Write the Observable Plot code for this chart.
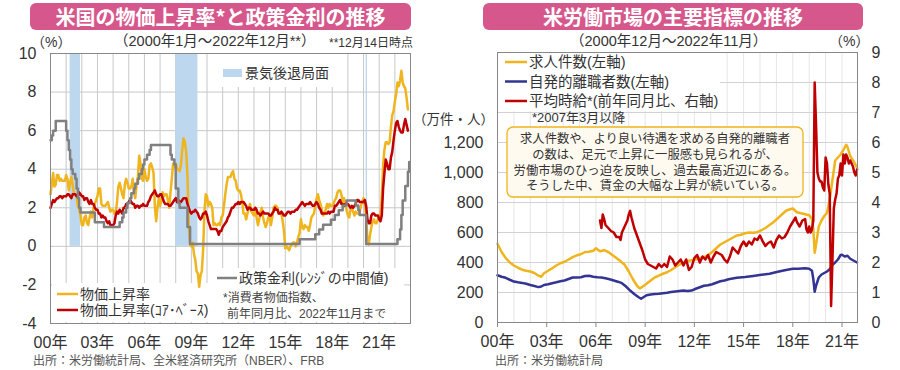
<!DOCTYPE html>
<html><head><meta charset="utf-8">
<script src="https://cdn.jsdelivr.net/npm/d3@7"></script>
<script src="https://cdn.jsdelivr.net/npm/@observablehq/plot@0.6"></script>
<style>
body{margin:0;background:#fff;}
#root{position:relative;width:900px;height:370px;overflow:hidden;font-family:"Liberation Sans","Noto Sans CJK JP",sans-serif;color:#333;}
#root svg{position:absolute;top:0;}
.abs{position:absolute;white-space:nowrap;z-index:3;line-height:1;}
.hdr{position:absolute;top:3px;height:27px;background:#d6578b;border-radius:6px;color:#fff;font-weight:bold;font-size:20px;line-height:27px;text-align:center;font-family:"Noto Sans CJK JP",sans-serif;z-index:3;}
</style></head><body>
<div id="root">
  <div class="hdr" style="left:30px;width:381px;">米国の物価上昇率*と政策金利の推移</div>
  <div class="hdr" style="left:483px;width:380px;">米労働市場の主要指標の推移</div>
  <div class="abs" style="left:31px;top:35px;font-size:14px;">（%）</div>
  <div class="abs" style="left:114px;top:34px;font-size:14.5px;">（2000年1月～2022年12月**）</div>
  <div class="abs" style="left:329px;top:37px;font-size:12px;">**12月14日時点</div>
  <div class="abs" style="left:570px;top:34px;font-size:14.5px;">（2000年12月～2022年11月）</div>
  <div class="abs" style="left:829px;top:34px;font-size:14px;">（%）</div>
  <div class="abs" style="left:413px;top:113px;font-size:13.5px;">（万件・人）</div>
  <div class="abs" style="left:33px;top:355px;font-size:12px;color:#555;">出所：米労働統計局、全米経済研究所（NBER）、FRB</div>
  <div class="abs" style="left:495px;top:355px;font-size:12px;color:#555;">出所：米労働統計局</div>
</div>
<script>
// ---------------- LEFT PANEL DATA ----------------
// CPI all items, YoY %, monthly from 2000-01 to 2022-11
const cpiAll = [
  2.7,3.2,3.8,3.1,3.2,3.7,3.7,3.4,3.5,3.4,3.4,3.4,
  3.7,3.5,2.9,3.3,3.6,3.2,2.7,2.7,2.6,2.1,1.9,1.6,
  1.1,1.1,1.5,1.6,1.2,1.1,1.5,1.8,1.5,2.0,2.2,2.4,
  2.6,3.0,3.0,2.2,2.1,2.1,2.1,2.2,2.3,2.0,1.8,1.9,
  1.9,1.7,1.7,2.3,3.1,3.3,3.0,2.7,2.5,3.2,3.5,3.3,
  3.0,3.0,3.1,3.5,2.8,2.5,3.2,3.6,4.7,4.3,3.5,3.4,
  4.0,3.6,3.4,3.5,4.2,4.3,4.1,3.8,2.1,1.3,2.0,2.5,
  2.1,2.4,2.8,2.6,2.7,2.7,2.4,2.0,2.8,3.5,4.3,4.1,
  4.3,4.0,4.0,3.9,4.2,5.0,5.6,5.4,4.9,3.7,1.1,0.1,
  0.0,0.2,-0.4,-0.7,-1.3,-1.4,-2.1,-1.5,-1.3,-0.2,1.8,2.7,
  2.6,2.1,2.3,2.2,2.0,1.1,1.2,1.1,1.1,1.2,1.1,1.5,
  1.6,2.1,2.7,3.2,3.6,3.6,3.6,3.8,3.9,3.5,3.4,3.0,
  2.9,2.9,2.7,2.3,1.7,1.7,1.4,1.7,2.0,2.2,1.8,1.7,
  1.6,2.0,1.5,1.1,1.4,1.8,2.0,1.5,1.2,1.0,1.2,1.5,
  1.6,1.1,1.5,2.0,2.1,2.1,2.0,1.7,1.7,1.7,1.3,0.8,
  -0.1,0.0,-0.1,-0.2,0.0,0.1,0.2,0.2,0.0,0.2,0.5,0.7,
  1.4,1.0,0.9,1.1,1.0,1.0,0.8,1.1,1.5,1.6,1.7,2.1,
  2.5,2.7,2.4,2.2,1.9,1.6,1.7,1.9,2.2,2.0,2.2,2.1,
  2.1,2.2,2.4,2.5,2.8,2.9,2.9,2.7,2.3,2.5,2.2,1.9,
  1.6,1.5,1.9,2.0,1.8,1.6,1.8,1.7,1.7,1.8,2.1,2.3,
  2.5,2.3,1.5,0.3,0.1,0.6,1.0,1.3,1.4,1.2,1.2,1.4,
  1.4,1.7,2.6,4.2,5.0,5.4,5.4,5.3,5.4,6.2,6.8,7.0,
  7.5,7.9,8.5,8.3,8.6,9.1,8.5,8.3,8.2,7.7,7.1
];
// Core CPI, YoY %, monthly from 2000-01 to 2022-11
const cpiCore = [
  2.0,2.2,2.4,2.3,2.4,2.5,2.5,2.6,2.6,2.5,2.6,2.6,
  2.6,2.7,2.7,2.6,2.5,2.7,2.7,2.7,2.6,2.6,2.8,2.7,
  2.6,2.6,2.4,2.5,2.5,2.3,2.2,2.4,2.2,2.2,2.0,1.9,
  1.9,1.7,1.7,1.5,1.6,1.5,1.5,1.3,1.2,1.3,1.1,1.1,
  1.1,1.2,1.6,1.8,1.7,1.9,1.8,1.7,2.0,2.0,2.2,2.2,
  2.3,2.4,2.3,2.2,2.2,2.0,2.1,2.1,2.0,2.1,2.1,2.2,
  2.1,2.1,2.1,2.3,2.4,2.6,2.7,2.8,2.9,2.7,2.6,2.6,
  2.7,2.7,2.5,2.3,2.2,2.2,2.2,2.1,2.1,2.2,2.3,2.4,
  2.5,2.3,2.4,2.3,2.3,2.4,2.5,2.5,2.5,2.2,2.0,1.8,
  1.7,1.8,1.8,1.9,1.8,1.7,1.5,1.4,1.5,1.7,1.7,1.8,
  1.6,1.3,1.1,0.9,0.9,0.9,0.9,0.9,0.8,0.6,0.8,0.8,
  1.0,1.1,1.2,1.3,1.5,1.6,1.8,2.0,2.0,2.1,2.2,2.2,
  2.3,2.2,2.3,2.3,2.3,2.2,2.1,1.9,2.0,2.0,1.9,1.9,
  1.9,2.0,1.9,1.7,1.7,1.6,1.7,1.8,1.7,1.7,1.7,1.7,
  1.6,1.6,1.7,1.8,2.0,1.9,1.9,1.7,1.7,1.8,1.7,1.6,
  1.6,1.7,1.8,1.8,1.7,1.8,1.8,1.8,1.9,1.9,2.0,2.1,
  2.2,2.3,2.2,2.1,2.2,2.2,2.2,2.3,2.2,2.1,2.1,2.2,
  2.3,2.2,2.0,1.9,1.7,1.7,1.7,1.7,1.7,1.8,1.7,1.8,
  1.8,1.8,2.1,2.1,2.2,2.3,2.4,2.2,2.2,2.1,2.2,2.2,
  2.2,2.1,2.0,2.1,2.0,2.1,2.2,2.4,2.4,2.3,2.3,2.3,
  2.3,2.4,2.1,1.4,1.2,1.2,1.6,1.7,1.7,1.6,1.6,1.6,
  1.4,1.3,1.6,3.0,3.8,4.5,4.3,4.0,4.0,4.6,4.9,5.5,
  6.0,6.4,6.5,6.2,6.0,5.9,5.9,6.3,6.6,6.3,6.0
];
// Policy rate (midpoint of target range), change months
const policyRate = [
  ["2000-01",5.5],["2000-02",5.75],["2000-03",6.0],["2000-05",6.5],["2001-01",6.0],["2001-02",5.5],
  ["2001-03",5.0],["2001-04",4.5],["2001-05",4.0],["2001-06",3.75],["2001-08",3.5],["2001-09",3.0],
  ["2001-10",2.5],["2001-11",2.0],["2001-12",1.75],["2002-11",1.25],["2003-06",1.0],["2004-06",1.25],
  ["2004-08",1.5],["2004-09",1.75],["2004-11",2.0],["2004-12",2.25],["2005-02",2.5],["2005-03",2.75],
  ["2005-05",3.0],["2005-06",3.25],["2005-08",3.5],["2005-09",3.75],["2005-11",4.0],["2005-12",4.25],
  ["2006-01",4.5],["2006-03",4.75],["2006-05",5.0],["2006-06",5.25],["2007-09",4.75],["2007-10",4.5],
  ["2007-12",4.25],["2008-01",3.0],["2008-03",2.25],["2008-04",2.0],["2008-10",1.0],["2008-12",0.125],
  ["2015-12",0.375],["2016-12",0.625],["2017-03",0.875],["2017-06",1.125],["2017-12",1.375],
  ["2018-03",1.625],["2018-06",1.875],["2018-09",2.125],["2018-12",2.375],["2019-07",2.125],
  ["2019-09",1.875],["2019-10",1.625],["2020-03",0.125],["2022-03",0.375],["2022-05",0.875],
  ["2022-06",1.625],["2022-07",2.375],["2022-09",3.125],["2022-11",3.875],["2022-12",4.375]
];
const recessions = [["2001-04","2001-12"],["2008-01","2009-06"],["2020-03","2020-04"]];
const leftYTicks = [-4,-2,0,2,4,6,8,10];
const leftXTickYears = [2000,2003,2006,2009,2012,2015,2018,2021];

// ---------------- RIGHT PANEL DATA ----------------
// Job openings (10k)
const jobOpenings = [
  ["2000-12",525],["2001-03",470],["2001-06",430],["2001-09",400],["2001-12",380],["2002-03",365],
  ["2002-06",352],["2002-09",345],["2002-12",340],["2003-03",330],["2003-06",312],["2003-08",305],
  ["2003-10",328],["2004-01",345],["2004-04",362],["2004-07",380],["2004-10",395],["2005-01",405],
  ["2005-04",420],["2005-07",436],["2005-10",448],["2006-01",455],["2006-04",470],["2006-07",472],
  ["2006-10",478],["2006-12",495],["2007-03",475],["2007-06",482],["2007-09",470],["2007-12",450],
  ["2008-03",430],["2008-06",408],["2008-09",385],["2008-12",340],["2009-03",290],["2009-06",245],
  ["2009-08",228],["2009-10",238],["2010-01",258],["2010-04",280],["2010-07",300],["2010-10",312],
  ["2011-01",325],["2011-04",335],["2011-07",350],["2011-10",368],["2012-01",385],["2012-04",400],
  ["2012-07",410],["2012-10",415],["2013-01",420],["2013-04",430],["2013-07",435],["2013-10",450],
  ["2014-01",470],["2014-04",495],["2014-07",520],["2014-10",535],["2015-01",550],["2015-04",565],
  ["2015-07",580],["2015-10",585],["2016-01",595],["2016-04",600],["2016-07",598],["2016-10",602],
  ["2017-01",615],["2017-04",630],["2017-07",650],["2017-10",670],["2018-01",695],["2018-04",720],
  ["2018-07",745],["2018-10",755],["2018-12",760],["2019-03",735],["2019-06",728],["2019-09",722],
  ["2019-12",715],["2020-02",690],["2020-03",620],["2020-04",465],["2020-05",520],["2020-07",640],
  ["2020-09",680],["2020-11",710],["2021-01",730],["2021-03",820],["2021-05",950],["2021-07",1080],
  ["2021-09",1100],["2021-11",1120],["2022-01",1150],["2022-03",1185],["2022-04",1170],["2022-06",1110],
  ["2022-08",1080],["2022-10",1050],["2022-11",1030]
];
// Quits (10k persons)
const quits = [
  ["2000-12",315],["2001-03",305],["2001-06",298],["2001-09",285],["2001-12",273],["2002-03",268],
  ["2002-06",264],["2002-09",258],["2002-12",250],["2003-03",243],["2003-06",236],["2003-08",240],
  ["2003-10",250],["2004-01",255],["2004-04",262],["2004-07",268],["2004-10",275],["2005-01",280],
  ["2005-04",290],["2005-07",300],["2005-10",300],["2006-01",302],["2006-04",310],["2006-07",312],
  ["2006-10",305],["2007-01",302],["2007-04",300],["2007-07",295],["2007-10",288],["2008-01",280],
  ["2008-04",272],["2008-07",262],["2008-10",240],["2009-01",213],["2009-04",190],["2009-07",170],
  ["2009-09",158],["2009-11",170],["2010-01",182],["2010-04",187],["2010-07",190],["2010-10",192],
  ["2011-01",195],["2011-04",198],["2011-07",203],["2011-10",207],["2012-01",210],["2012-04",213],
  ["2012-07",210],["2012-10",213],["2013-01",225],["2013-04",235],["2013-07",245],["2013-10",248],
  ["2014-01",255],["2014-04",265],["2014-07",275],["2014-10",280],["2015-01",288],["2015-07",298],
  ["2016-01",303],["2016-07",310],["2017-01",318],["2017-07",325],["2018-01",338],["2018-07",350],
  ["2018-12",358],["2019-04",358],["2019-09",362],["2019-12",358],["2020-02",345],["2020-03",290],
  ["2020-04",205],["2020-05",245],["2020-07",300],["2020-09",320],["2020-11",330],["2021-01",340],
  ["2021-03",355],["2021-05",385],["2021-07",400],["2021-09",420],["2021-11",450],["2021-12",452],
  ["2022-02",440],["2022-04",445],["2022-06",425],["2022-08",415],["2022-10",405],["2022-11",400]
];
// Average hourly earnings, YoY %
const hourlyEarnings = [
  ["2007-03",3.4],["2007-04",3.15],["2007-05",3.6],["2007-06",3.45],["2007-07",3.25],["2007-09",3.15],
  ["2007-11",3.05],["2008-01",3.0],["2008-03",2.85],["2008-05",2.85],["2008-06",2.75],["2008-07",3.0],
  ["2008-09",3.2],["2008-11",3.4],["2008-12",3.6],["2009-01",3.72],["2009-02",3.5],["2009-04",3.15],
  ["2009-06",2.9],["2009-08",2.65],["2009-10",2.4],["2009-12",2.1],["2010-02",1.95],["2010-04",1.9],
  ["2010-06",1.85],["2010-08",1.8],["2010-10",1.95],["2010-12",1.85],["2011-02",1.95],["2011-04",1.85],
  ["2011-06",2.2],["2011-08",2.1],["2011-10",1.9],["2011-12",2.0],["2012-02",2.1],["2012-04",1.9],
  ["2012-06",2.1],["2012-08",1.75],["2012-10",1.85],["2012-12",2.15],["2013-02",2.25],["2013-04",2.0],
  ["2013-06",2.2],["2013-08",2.1],["2013-10",2.25],["2013-12",2.0],["2014-02",2.2],["2014-04",2.35],
  ["2014-06",2.3],["2014-08",2.25],["2014-10",2.1],["2014-12",2.0],["2015-02",2.2],["2015-04",2.5],
  ["2015-06",2.4],["2015-08",2.3],["2015-10",2.55],["2015-12",2.7],["2016-02",2.55],["2016-04",2.7],
  ["2016-06",2.6],["2016-08",2.8],["2016-10",2.75],["2016-12",2.9],["2017-02",2.7],["2017-04",2.55],
  ["2017-06",2.65],["2017-08",2.7],["2017-10",2.5],["2017-12",2.75],["2018-02",2.9],["2018-04",2.8],
  ["2018-06",2.85],["2018-08",3.0],["2018-10",3.2],["2018-12",3.35],["2019-02",3.5],["2019-03",3.35],
  ["2019-05",3.2],["2019-07",3.4],["2019-09",3.45],["2019-10",3.1],["2019-11",3.0],["2019-12",3.2],
  ["2020-01",3.0],["2020-02",3.1],["2020-03",3.4],["2020-04",8.0],["2020-05",6.6],["2020-06",5.0],
  ["2020-07",4.8],["2020-08",4.7],["2020-09",4.7],["2020-10",4.5],["2020-11",4.4],["2020-12",5.5],
  ["2021-01",5.3],["2021-02",4.6],["2021-03",4.3],["2021-04",0.55],["2021-05",2.1],["2021-06",3.8],
  ["2021-07",4.1],["2021-08",4.3],["2021-09",4.8],["2021-10",4.9],["2021-11",5.3],["2021-12",4.9],
  ["2022-01",5.6],["2022-02",5.3],["2022-03",5.6],["2022-04",5.5],["2022-05",5.3],["2022-06",5.4],
  ["2022-07",5.3],["2022-08",5.2],["2022-09",5.0],["2022-10",4.9],["2022-11",5.1]
];
const rightLeftTicks = [0,200,400,600,800,1000,1200];
const rightRightTicks = [0,1,2,3,4,5,6,7,8,9];

// ---------------- HELPERS ----------------
const ORANGE = "#f0b41c", RED = "#c00000", GRAY = "#808080", NAVY = "#343493", BAND = "#bdd7ee";
const FONT = '"Liberation Sans","Noto Sans CJK JP",sans-serif';
const toT = s => { const [y, m] = s.split("-").map(Number); return y + (m - 1) / 12; };
const monthly = arr => arr.map((v, i) => ({t: 2000 + i / 12, v}));
const pairs = arr => arr.map(([s, v]) => ({t: toT(s), v}));
const yy = y => String(Math.round(y) % 100).padStart(2, "0") + "年";

function txt(g, x, y, s, size, opts = {}) {
  g.append("text").attr("x", x).attr("y", y).attr("font-size", size)
    .attr("dominant-baseline", "central").attr("fill", opts.fill || "#333")
    .attr("text-anchor", opts.anchor || "start").text(s);
}

// ---------------- LEFT PLOT ----------------
const leftBoxes = () => {
  const g = d3.create("svg:g").attr("fill", "#fff");
  g.append("rect").attr("x", 52).attr("y", 283).attr("width", 166).attr("height", 39);
  g.append("rect").attr("x", 216).attr("y", 268).attr("width", 188).attr("height", 54);
  g.append("rect").attr("x", 214).attr("y", 54).attr("width", 126).attr("height", 33);
  return g.node();
};
const leftLegend = () => {
  const g = d3.create("svg:g").attr("font-family", FONT);
  g.append("line").attr("x1", 57).attr("x2", 78).attr("y1", 294).attr("y2", 294).attr("stroke", ORANGE).attr("stroke-width", 2.5);
  txt(g, 80, 294, "物価上昇率", 14);
  g.append("line").attr("x1", 57).attr("x2", 78).attr("y1", 310).attr("y2", 310).attr("stroke", RED).attr("stroke-width", 2.5);
  txt(g, 80, 310, "物価上昇率(ｺｱ･ﾍﾞｰｽ)", 14);
  g.append("line").attr("x1", 217).attr("x2", 237).attr("y1", 278).attr("y2", 278).attr("stroke", GRAY).attr("stroke-width", 2.5);
  txt(g, 239, 278, "政策金利(ﾚﾝｼﾞの中間値)", 14);
  txt(g, 223, 298, "*消費者物価指数、", 12, {fill: "#444"});
  txt(g, 227, 314, "前年同月比、2022年11月まで", 12, {fill: "#444"});
  g.append("rect").attr("x", 223).attr("y", 69).attr("width", 19).attr("height", 8).attr("fill", BAND);
  txt(g, 245, 73, "景気後退局面", 14);
  return g.node();
};

const leftPlot = Plot.plot({
  width: 450, height: 370,
  marginLeft: 50, marginRight: 40, marginTop: 53, marginBottom: 47,
  style: {fontFamily: FONT, fontSize: "16px", color: "#333", background: "transparent", overflow: "visible"},
  x: {domain: [2000, 2023], label: null},
  y: {domain: [-4, 10], label: null},
  marks: [
    Plot.gridX(d3.range(2001, 2023), {stroke: "#c8c8c8", strokeOpacity: 1}),
    Plot.gridY(leftYTicks, {stroke: "#c8c8c8", strokeOpacity: 1}),
    Plot.rect(recessions.map(([a, b]) => ({start: toT(a), end: toT(b)})), {x1: "start", x2: "end", y1: 0, y2: 10, fill: BAND}),
    leftBoxes,
    Plot.line(monthly(cpiAll), {x: "t", y: "v", stroke: ORANGE, strokeWidth: 2.5}),
    Plot.line(monthly(cpiCore), {x: "t", y: "v", stroke: RED, strokeWidth: 2.5}),
    Plot.line(pairs(policyRate), {x: "t", y: "v", stroke: GRAY, strokeWidth: 2.5, curve: "step-after"}),
    Plot.frame({stroke: "#888"}),
    Plot.axisY(leftYTicks, {tickSize: 0, tickPadding: 14, tickFormat: d => String(d), label: null}),
    Plot.axisX(leftXTickYears, {tickSize: 0, tickPadding: 13, tickFormat: yy, label: null}),
    leftLegend
  ]
});
leftPlot.style.left = "0px";

// ---------------- RIGHT PLOT ----------------
const T0 = 2000 + 11 / 12;
const rightBoxes = () => {
  const g = d3.create("svg:g");
  g.append("rect").attr("x", 48).attr("y", 53).attr("width", 222).attr("height", 58).attr("fill", "#fff");
  g.append("rect").attr("x", 57).attr("y", 127).attr("width", 296).attr("height", 70).attr("rx", 6)
    .attr("fill", "#fffaf0").attr("stroke", ORANGE).attr("stroke-width", 1.3);
  return g.node();
};
const rightLegend = () => {
  const g = d3.create("svg:g").attr("font-family", FONT);
  const items = [[ORANGE, "求人件数(左軸)", 62], [NAVY, "自発的離職者数(左軸)", 81.5], [RED, "平均時給*(前年同月比、右軸)", 101]];
  for (const [c, s, y] of items) {
    g.append("line").attr("x1", 55).attr("x2", 77).attr("y1", y).attr("y2", y).attr("stroke", c).attr("stroke-width", 2.5);
    txt(g, 79, y, s, 14.5);
  }
  txt(g, 82, 117, "*2007年3月以降", 13);
  const lines = ["求人件数や、より良い待遇を求める自発的離職者", "の数は、足元で上昇に一服感も見られるが、",
    "労働市場のひっ迫を反映し、過去最高近辺にある。", "そうした中、賃金の大幅な上昇が続いている。"];
  lines.forEach((s, i) => txt(g, 205, 139 + i * 15.8, s, 12.3, {anchor: "middle"}));
  return g.node();
};

const rightPlot = Plot.plot({
  width: 450, height: 370,
  marginLeft: 47, marginRight: 43, marginTop: 52, marginBottom: 48,
  style: {fontFamily: FONT, fontSize: "16px", color: "#333", background: "transparent", overflow: "visible"},
  x: {domain: [T0, 2022.86], label: null},
  y: {domain: [0, 1800], label: null},
  marks: [
    Plot.gridX(d3.range(1, 22).map(k => T0 + k), {stroke: "#e6e6e6", strokeOpacity: 1}),
    Plot.gridY(d3.range(200, 1801, 200), {stroke: "#d2d2d2", strokeOpacity: 1}),
    rightBoxes,
    Plot.line(pairs(jobOpenings), {x: "t", y: "v", stroke: ORANGE, strokeWidth: 2.5}),
    Plot.line(pairs(quits), {x: "t", y: "v", stroke: NAVY, strokeWidth: 2.5}),
    Plot.line(pairs(hourlyEarnings), {x: "t", y: d => d.v * 200, stroke: RED, strokeWidth: 2.5}),
    Plot.frame({stroke: "#888"}),
    Plot.axisY(rightLeftTicks, {anchor: "left", tickSize: 0, tickPadding: 14, tickFormat: d3.format(","), label: null}),
    Plot.axisY(rightRightTicks.map(d => d * 200), {anchor: "right", tickSize: 0, tickPadding: 14, tickFormat: d => String(d / 200), label: null}),
    Plot.axisX(d3.range(0, 22, 3).map(k => T0 + k), {tickSize: 5, tickPadding: 8, stroke: "#888", tickFormat: d => yy(d - 11 / 12), label: null}),
    rightLegend
  ]
});
rightPlot.style.left = "450px";

const root = document.getElementById("root");
root.prepend(rightPlot);
root.prepend(leftPlot);
</script>
</body></html>
